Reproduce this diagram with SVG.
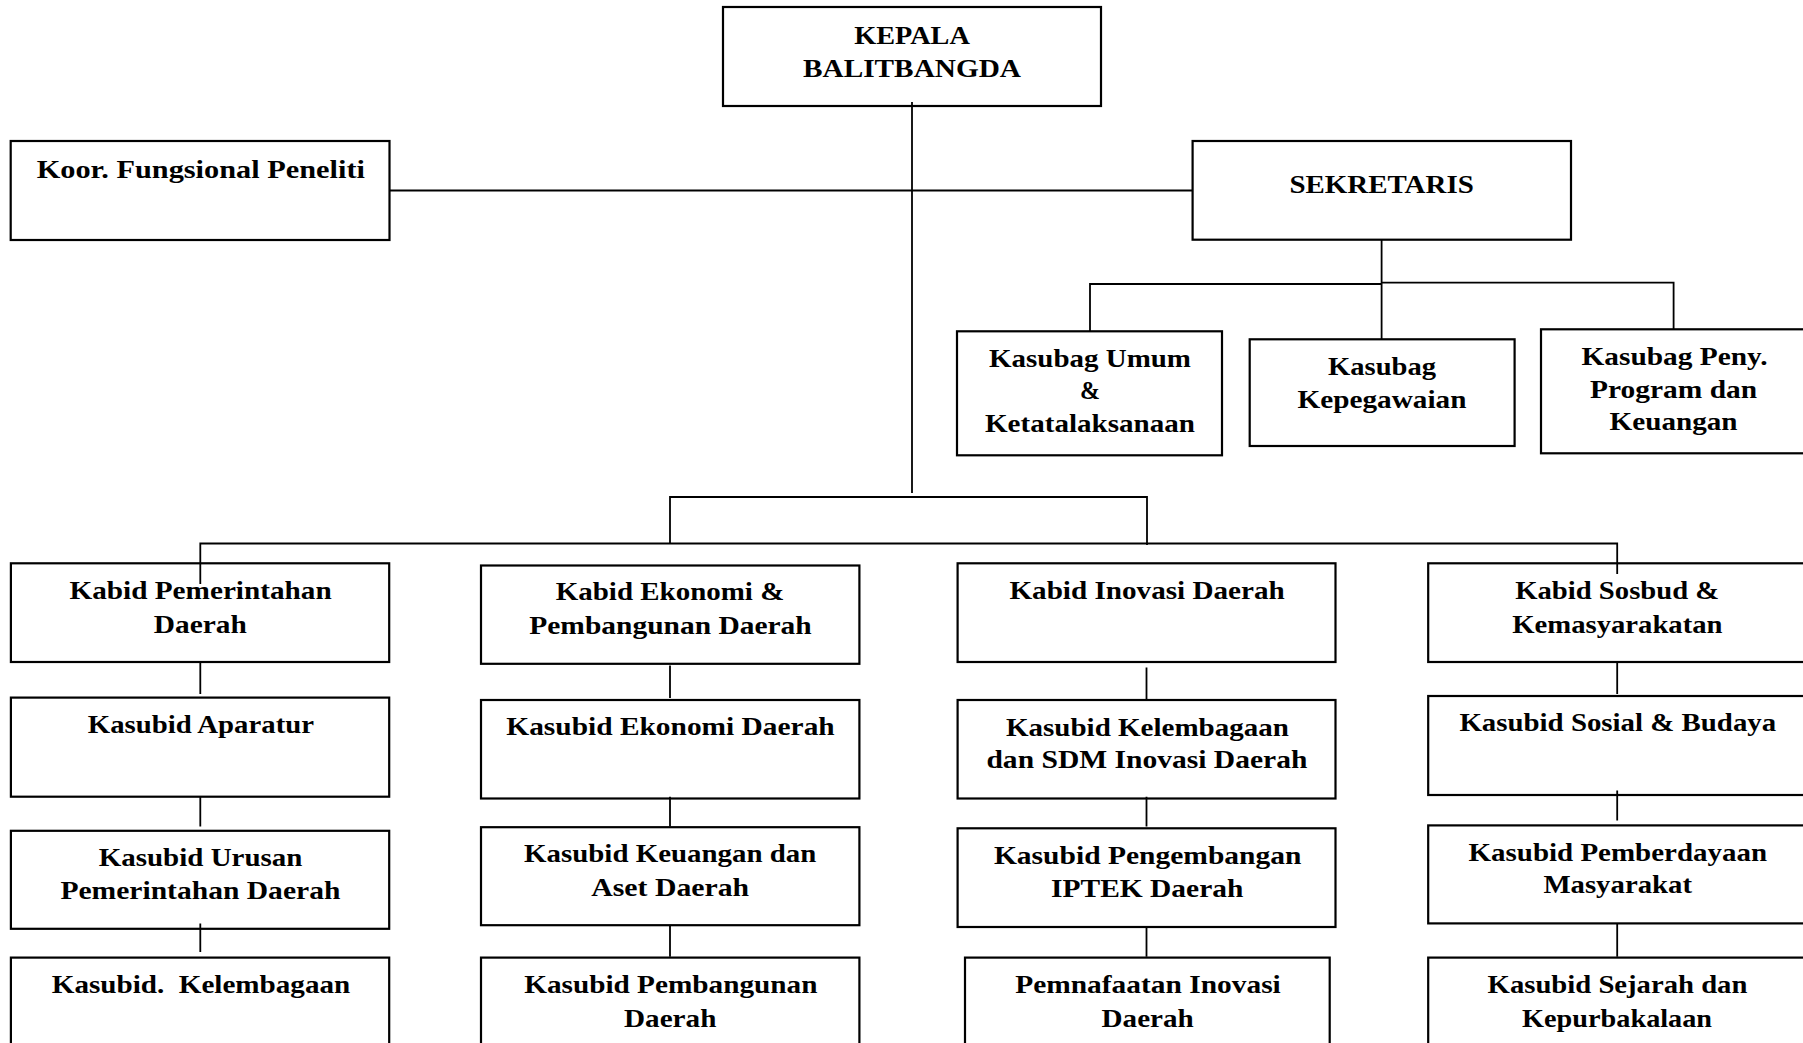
<svg xmlns="http://www.w3.org/2000/svg" width="1803" height="1043" viewBox="0 0 1803 1043">
<style>
  .box { fill: #ffffff; stroke: #000000; stroke-width: 2.2; }
  .ln { fill: none; stroke: #000000; stroke-width: 1.8; }
  .t { font-family: "Liberation Serif", "Times New Roman", serif; font-weight: bold; font-size: 25px; text-anchor: middle; fill: #000000; }
</style>
<rect x="0" y="0" width="1803" height="1043" fill="#ffffff"/>

<g id="kepala">
  <rect class="box" x="723" y="7" width="378" height="99"/>
  <text class="t" x="912" y="43.6" textLength="115.6" lengthAdjust="spacingAndGlyphs">KEPALA</text>
  <text class="t" x="912" y="76.8" textLength="218" lengthAdjust="spacingAndGlyphs">BALITBANGDA</text>
</g>

<g id="koor">
  <rect class="box" x="10.7" y="141" width="378.8" height="99"/>
  <text class="t" x="200.8" y="177.5" textLength="328.3" lengthAdjust="spacingAndGlyphs">Koor. Fungsional Peneliti</text>
</g>

<g id="sekretaris">
  <rect class="box" x="1192.6" y="141" width="378.4" height="98.7"/>
  <text class="t" x="1381.6" y="193.3" textLength="184.3" lengthAdjust="spacingAndGlyphs">SEKRETARIS</text>
</g>

<g id="kasubag-umum">
  <rect class="box" x="957" y="331.3" width="265" height="124"/>
  <text class="t" x="1090" y="366.7" textLength="202" lengthAdjust="spacingAndGlyphs">Kasubag Umum</text>
  <text class="t" x="1090" y="399" textLength="20" lengthAdjust="spacingAndGlyphs">&amp;</text>
  <text class="t" x="1090" y="432.3" textLength="210" lengthAdjust="spacingAndGlyphs">Ketatalaksanaan</text>
</g>

<g id="kasubag-kepegawaian">
  <rect class="box" x="1249.7" y="339.3" width="264.9" height="106.7"/>
  <text class="t" x="1382" y="375" textLength="108" lengthAdjust="spacingAndGlyphs">Kasubag</text>
  <text class="t" x="1382" y="408.3" textLength="168.8" lengthAdjust="spacingAndGlyphs">Kepegawaian</text>
</g>

<g id="kasubag-peny">
  <rect class="box" x="1541" y="329.3" width="266" height="124"/>
  <text class="t" x="1674.5" y="365" textLength="186" lengthAdjust="spacingAndGlyphs">Kasubag Peny.</text>
  <text class="t" x="1673.6" y="397.7" textLength="167" lengthAdjust="spacingAndGlyphs">Program dan</text>
  <text class="t" x="1673.6" y="430" textLength="128" lengthAdjust="spacingAndGlyphs">Keuangan</text>
</g>

<g id="kabid-pemerintahan">
  <rect class="box" x="10.9" y="563.3" width="378.3" height="98.7"/>
  <text class="t" x="200.6" y="598.5" textLength="262.3" lengthAdjust="spacingAndGlyphs">Kabid Pemerintahan</text>
  <text class="t" x="200.3" y="632.6" textLength="93" lengthAdjust="spacingAndGlyphs">Daerah</text>
</g>

<g id="kabid-ekonomi">
  <rect class="box" x="481" y="565.5" width="378.4" height="98.3"/>
  <text class="t" x="670" y="600.3" textLength="228.5" lengthAdjust="spacingAndGlyphs">Kabid Ekonomi &amp;</text>
  <text class="t" x="670.5" y="633.7" textLength="282.4" lengthAdjust="spacingAndGlyphs">Pembangunan Daerah</text>
</g>

<g id="kabid-inovasi">
  <rect class="box" x="957.6" y="563.3" width="377.9" height="98.7"/>
  <text class="t" x="1147.1" y="598.5" textLength="275.4" lengthAdjust="spacingAndGlyphs">Kabid Inovasi Daerah</text>
</g>

<g id="kabid-sosbud">
  <rect class="box" x="1428.2" y="563.3" width="379" height="98.7"/>
  <text class="t" x="1617.2" y="598.5" textLength="204" lengthAdjust="spacingAndGlyphs">Kabid Sosbud &amp;</text>
  <text class="t" x="1617.4" y="632.6" textLength="210.3" lengthAdjust="spacingAndGlyphs">Kemasyarakatan</text>
</g>

<g id="kasubid-aparatur">
  <rect class="box" x="10.9" y="697.6" width="378.3" height="99.1"/>
  <text class="t" x="200.9" y="733.1" textLength="226.2" lengthAdjust="spacingAndGlyphs">Kasubid Aparatur</text>
</g>

<g id="kasubid-ekonomi-daerah">
  <rect class="box" x="481" y="700" width="378.4" height="98.5"/>
  <text class="t" x="670.5" y="735" textLength="328.4" lengthAdjust="spacingAndGlyphs">Kasubid Ekonomi Daerah</text>
</g>

<g id="kasubid-kelembagaan-sdm">
  <rect class="box" x="957.6" y="700" width="377.9" height="98.5"/>
  <text class="t" x="1147.4" y="735.7" textLength="282.8" lengthAdjust="spacingAndGlyphs">Kasubid Kelembagaan</text>
  <text class="t" x="1146.9" y="768.3" textLength="320.9" lengthAdjust="spacingAndGlyphs">dan SDM Inovasi Daerah</text>
</g>

<g id="kasubid-sosial-budaya">
  <rect class="box" x="1428.2" y="696" width="379" height="99"/>
  <text class="t" x="1617.8" y="731.3" textLength="316.8" lengthAdjust="spacingAndGlyphs">Kasubid Sosial &amp; Budaya</text>
</g>

<g id="kasubid-urusan">
  <rect class="box" x="10.9" y="830.8" width="378.3" height="98"/>
  <text class="t" x="200.6" y="866" textLength="203.8" lengthAdjust="spacingAndGlyphs">Kasubid Urusan</text>
  <text class="t" x="200.4" y="899.4" textLength="280" lengthAdjust="spacingAndGlyphs">Pemerintahan Daerah</text>
</g>

<g id="kasubid-keuangan">
  <rect class="box" x="481" y="827.2" width="378.4" height="98"/>
  <text class="t" x="670.2" y="862.4" textLength="292.2" lengthAdjust="spacingAndGlyphs">Kasubid Keuangan dan</text>
  <text class="t" x="670.2" y="895.8" textLength="157.9" lengthAdjust="spacingAndGlyphs">Aset Daerah</text>
</g>

<g id="kasubid-pengembangan">
  <rect class="box" x="957.6" y="828.3" width="377.9" height="98.7"/>
  <text class="t" x="1147.7" y="863.5" textLength="307.6" lengthAdjust="spacingAndGlyphs">Kasubid Pengembangan</text>
  <text class="t" x="1147.2" y="896.5" textLength="192.4" lengthAdjust="spacingAndGlyphs">IPTEK Daerah</text>
</g>

<g id="kasubid-pemberdayaan">
  <rect class="box" x="1428.2" y="825.4" width="379" height="98"/>
  <text class="t" x="1617.8" y="860.6" textLength="298.4" lengthAdjust="spacingAndGlyphs">Kasubid Pemberdayaan</text>
  <text class="t" x="1617.7" y="893" textLength="148.6" lengthAdjust="spacingAndGlyphs">Masyarakat</text>
</g>

<g id="kasubid-kelembagaan">
  <rect class="box" x="10.9" y="957.6" width="378.3" height="110"/>
  <text class="t" x="201" y="992.7" textLength="298.5" lengthAdjust="spacingAndGlyphs" style="white-space:pre">Kasubid.  Kelembagaan</text>
</g>

<g id="kasubid-pembangunan">
  <rect class="box" x="481" y="957.6" width="378.4" height="110"/>
  <text class="t" x="670.8" y="992.7" textLength="293.3" lengthAdjust="spacingAndGlyphs">Kasubid Pembangunan</text>
  <text class="t" x="670.2" y="1026.5" textLength="92.4" lengthAdjust="spacingAndGlyphs">Daerah</text>
</g>

<g id="pemnafaatan-inovasi">
  <rect class="box" x="965" y="957.6" width="364.7" height="110"/>
  <text class="t" x="1148" y="992.7" textLength="265.6" lengthAdjust="spacingAndGlyphs">Pemnafaatan Inovasi</text>
  <text class="t" x="1147.7" y="1026.5" textLength="92.2" lengthAdjust="spacingAndGlyphs">Daerah</text>
</g>

<g id="kasubid-sejarah">
  <rect class="box" x="1428.2" y="957.6" width="379" height="110"/>
  <text class="t" x="1617.5" y="992.7" textLength="259.8" lengthAdjust="spacingAndGlyphs">Kasubid Sejarah dan</text>
  <text class="t" x="1617.1" y="1026.5" textLength="190" lengthAdjust="spacingAndGlyphs">Kepurbakalaan</text>
</g>

<g id="connectors">
  <path class="ln" d="M912 102 V493"/>
  <path class="ln" d="M389.5 190.5 H1192.5"/>
  <path class="ln" d="M1381.6 240 V339.3"/>
  <path class="ln" d="M1090 331 V284 H1381.6"/>
  <path class="ln" d="M1381.6 282.7 H1673.6 V329"/>
  <path class="ln" d="M670 544 V497 H1147 V545"/>
  <path class="ln" d="M200.3 584 V543.5 H1617.2 V574"/>
  <path class="ln" d="M200.3 662 V694 M200.3 796.7 V826.5 M200.3 923.4 V952"/>
  <path class="ln" d="M670 665.6 V698 M670 796.7 V826.5 M670 925.2 V956.8"/>
  <path class="ln" d="M1146.5 667.4 V699.7 M1146.5 796.7 V826.5 M1146.5 927 V956.8"/>
  <path class="ln" d="M1617.2 662 V694 M1617.2 790.6 V820.4 M1617.2 923.4 V956.8"/>
</g>
</svg>
